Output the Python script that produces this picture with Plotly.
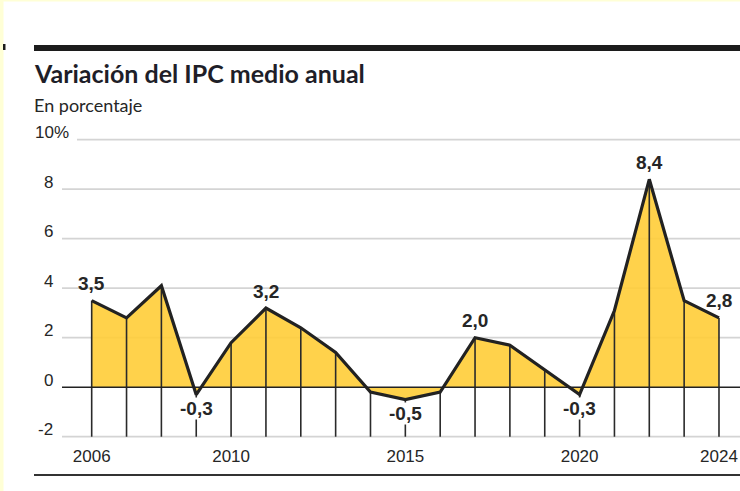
import plotly.graph_objects as go

# ---------------- data ----------------
years = list(range(2006, 2025))
ipc = [3.5, 2.8, 4.1, -0.3, 1.8, 3.2, 2.4, 1.4, -0.2, -0.5, -0.2, 2.0, 1.7, 0.7, -0.3, 3.1, 8.4, 3.5, 2.8]
label_years = [2006, 2009, 2011, 2015, 2017, 2020, 2022, 2024]
label_texts = ["3,5", "-0,3", "3,2", "-0,5", "2,0", "-0,3", "8,4", "2,8"]
y_tick_vals = [10, 8, 6, 4, 2, 0, -2]
y_tick_text = ["10%", "8", "6", "4", "2", "0", "-2"]
x_tick_vals = [2006, 2010, 2015, 2020, 2024]
x_tick_text = ["2006", "2010", "2015", "2020", "2024"]
title = "Variación del IPC medio anual"
subtitle = "En porcentaje"

# ---------------- layout geometry ----------------
W, H = 740, 491
ML, MR, MT, MB = 62, 0, 138, 53
PW, PH = W - ML - MR, H - MT - MB
Y_RANGE = [-2.052, 10.069]
X_RANGE = [2005.148, 2024.603]


def px(xp):
    return (xp - ML) / PW


def py(yp):
    return (H - MB - yp) / PH


TXT = "#262626"
HEAD = "Lato, Liberation Sans, sans-serif"
SANS = "Liberation Sans, Arial, sans-serif"
val = dict(zip(years, ipc))

fig = go.Figure()

# area fill
fig.add_trace(go.Scatter(
    x=years, y=ipc, mode="lines", fill="tozeroy",
    fillcolor="rgba(255,205,55,0.9)", line=dict(width=0, color="rgba(0,0,0,0)"),
    hoverinfo="skip", showlegend=False))

# drop lines from each point down to the bottom of the scale
dx, dy = [], []
for yr, v in zip(years, ipc):
    dx += [yr, yr, None]
    dy += [v, y_tick_vals[-1], None]
fig.add_trace(go.Scatter(
    x=dx, y=dy, mode="lines", line=dict(color="#2a2a2a", width=1.6),
    hoverinfo="skip", showlegend=False))

# outline
fig.add_trace(go.Scatter(
    x=years, y=ipc, mode="lines", line=dict(color="#222222", width=3.2),
    hoverinfo="skip", showlegend=False))

shapes = []
# gridlines
for v in y_tick_vals:
    if v == 0:
        continue
    x0 = px(77) if v == y_tick_vals[0] else 0
    shapes.append(dict(type="line", xref="paper", yref="y", x0=x0, x1=1, y0=v, y1=v,
                       line=dict(color="#d4d4d4", width=1.7), layer="below"))
# zero line
shapes.append(dict(type="line", xref="paper", yref="y", x0=0, x1=1, y0=0, y1=0,
                   line=dict(color="#222222", width=1.6), layer="above"))
# top black bar
shapes.append(dict(type="rect", xref="paper", yref="paper", x0=px(34), x1=1.0,
                   y0=py(51), y1=py(45), line=dict(width=0), fillcolor="#1c1c1c"))
# small mark at far left
shapes.append(dict(type="rect", xref="paper", yref="paper", x0=px(3), x1=px(5.5),
                   y0=py(50), y1=py(44), line=dict(width=0), fillcolor="#1c1c1c"))
# bottom rule
shapes.append(dict(type="line", xref="paper", yref="paper", x0=px(34), x1=1.0,
                   y0=py(475), y1=py(475), line=dict(color="#333333", width=2)))
# pale yellow page edges
shapes.append(dict(type="rect", xref="paper", yref="paper", x0=px(0), x1=px(3.5),
                   y0=py(H), y1=py(0), line=dict(width=0), fillcolor="#FFFFD6", layer="below"))
shapes.append(dict(type="rect", xref="paper", yref="paper", x0=px(0), x1=1.0,
                   y0=py(1.5), y1=py(0), line=dict(width=0), fillcolor="#FFFFD6", layer="below"))

annotations = []
# title & subtitle
annotations.append(dict(text="<b>" + title + "</b>", xref="paper", yref="paper",
                        x=px(32), y=py(73), xanchor="left", yanchor="middle", showarrow=False,
                        font=dict(family=HEAD, size=25, color="#1e1e28")))
annotations.append(dict(text=subtitle, xref="paper", yref="paper",
                        x=px(32), y=py(105), xanchor="left", yanchor="middle", showarrow=False,
                        font=dict(family=HEAD, size=18, color=TXT)))
# y tick labels (baseline sits on gridline)
for v, t in zip(y_tick_vals, y_tick_text):
    if t.endswith("%"):
        annotations.append(dict(text=t, xref="paper", yref="y", x=px(33), y=v,
                                xanchor="left", yanchor="middle", yshift=7, showarrow=False,
                                font=dict(family=SANS, size=17, color=TXT)))
    else:
        annotations.append(dict(text=t, xref="paper", yref="y", x=px(55), y=v,
                                xanchor="right", yanchor="middle", yshift=7, showarrow=False,
                                font=dict(family=SANS, size=17, color=TXT)))
# value labels
for yr, t in zip(label_years, label_texts):
    v = val[yr]
    annotations.append(dict(text="<b>" + t + "</b>", x=yr, y=v, xref="x", yref="y",
                            xanchor="center", yanchor="middle",
                            yshift=17 if v >= 0 else -14, showarrow=False,
                            bgcolor="white" if v < 0 else None, borderpad=0,
                            font=dict(family=SANS, size=19, color=TXT)))

fig.update_layout(
    width=W, height=H,
    margin=dict(l=ML, r=MR, t=MT, b=MB, pad=0),
    paper_bgcolor="white", plot_bgcolor="white",
    showlegend=False,
    shapes=shapes, annotations=annotations,
    xaxis=dict(range=X_RANGE, tickvals=x_tick_vals, ticktext=x_tick_text,
               showgrid=False, zeroline=False, showline=False, ticks="",
               ticklabelstandoff=6,
               tickfont=dict(family=SANS, size=17, color=TXT), fixedrange=True),
    yaxis=dict(range=Y_RANGE, showgrid=False, zeroline=False, showline=False,
               showticklabels=False, ticks="", fixedrange=True),
)

fig.write_html("out.html", config={"displayModeBar": False},
               post_script="document.body.style.margin='0';document.body.style.overflow='hidden';")
